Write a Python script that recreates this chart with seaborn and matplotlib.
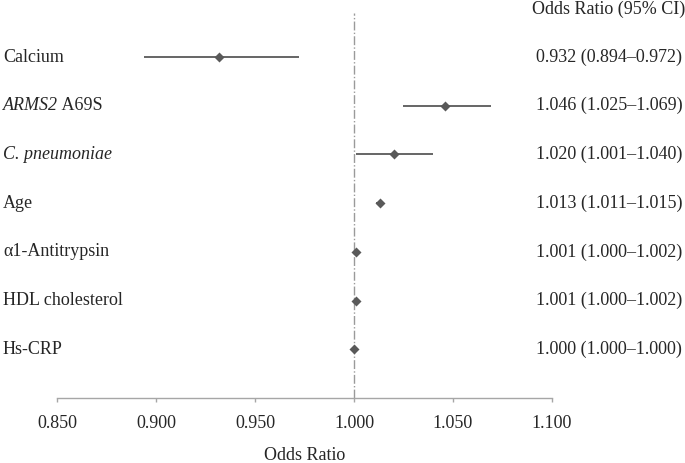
import matplotlib
matplotlib.use("Agg")
import matplotlib.pyplot as plt
import matplotlib.transforms as mtransforms
import seaborn as sns
import pandas as pd

labels = ["Calcium", "ARMS2", "C. pneumoniae", "Age",
          "α1-Antitrypsin", "HDL cholesterol", "Hs-CRP"]
label_suffix = ["", " A69S", "", "", "", "", ""]
italic = [False, True, True, False, False, False, False]
odds = [0.932, 1.046, 1.020, 1.013, 1.001, 1.001, 1.000]
lower = [0.894, 1.025, 1.001, 1.011, 1.000, 1.000, 1.000]
upper = [0.972, 1.069, 1.040, 1.015, 1.002, 1.002, 1.000]
xticks = [0.850, 0.900, 0.950, 1.000, 1.050, 1.100]

sns.set_theme(style="white")
plt.rcParams['font.family'] = ['Liberation Serif', 'DejaVu Serif']

df = pd.DataFrame({"label": labels, "odds": odds, "lower": lower, "upper": upper,
                   "row": list(range(1, len(labels) + 1))})

W, H = 685, 463
fig = plt.figure(figsize=(W / 100, H / 100), dpi=100)
ax = fig.add_axes([57 / W, 1 - 398 / H, (552 - 57) / W, (398 - 13) / H])

col = "#595959"
ax.axvline(1.0, color="#9a9a9a", lw=1.0, ls="-.", zorder=1)
ax.hlines(df["row"], df["lower"], df["upper"], color=col, lw=1.3, zorder=2)
sns.scatterplot(data=df, x="odds", y="row", marker="D", s=26, color=col,
                edgecolor=col, linewidth=0, ax=ax, zorder=3)

ax.set_xlim(0.85, 1.10)
ax.set_ylim(8, 0.095)
ax.set_xticks(xticks)
ax.set_xticklabels([f"{t:.3f}" for t in xticks], fontsize=13)
ax.set_yticks([])
ax.set_ylabel("")
ax.set_xlabel("Odds Ratio", fontsize=13, labelpad=11)
for s in ["top", "right", "left"]:
    ax.spines[s].set_visible(False)
ax.spines["bottom"].set_color("#a6a6a6")
ax.spines["bottom"].set_linewidth(1.0)
ax.tick_params(axis="x", direction="out", length=3, width=1.0, color="#a6a6a6",
               pad=9, bottom=True)

trans = mtransforms.blended_transform_factory(fig.transFigure, ax.transData)
for i, row in df.iterrows():
    t = ax.text(3 / W, row["row"], row["label"], transform=trans, ha="left",
                va="center", fontsize=13,
                fontstyle="italic" if italic[i] else "normal", clip_on=False)
    if label_suffix[i]:
        ax.annotate(label_suffix[i], xy=(1, 0.5), xycoords=t, ha="left",
                    va="center", fontsize=13, annotation_clip=False)
    ax.text(609 / W, row["row"],
            f"{row['odds']:.3f} ({row['lower']:.3f}–{row['upper']:.3f})",
            transform=trans, ha="center", va="center", fontsize=13, clip_on=False)
fig.text(609 / W, 1 - 9 / H, "Odds Ratio (95% CI)", ha="center", va="center",
         fontsize=13)

fig.savefig("out.png", dpi=100)
